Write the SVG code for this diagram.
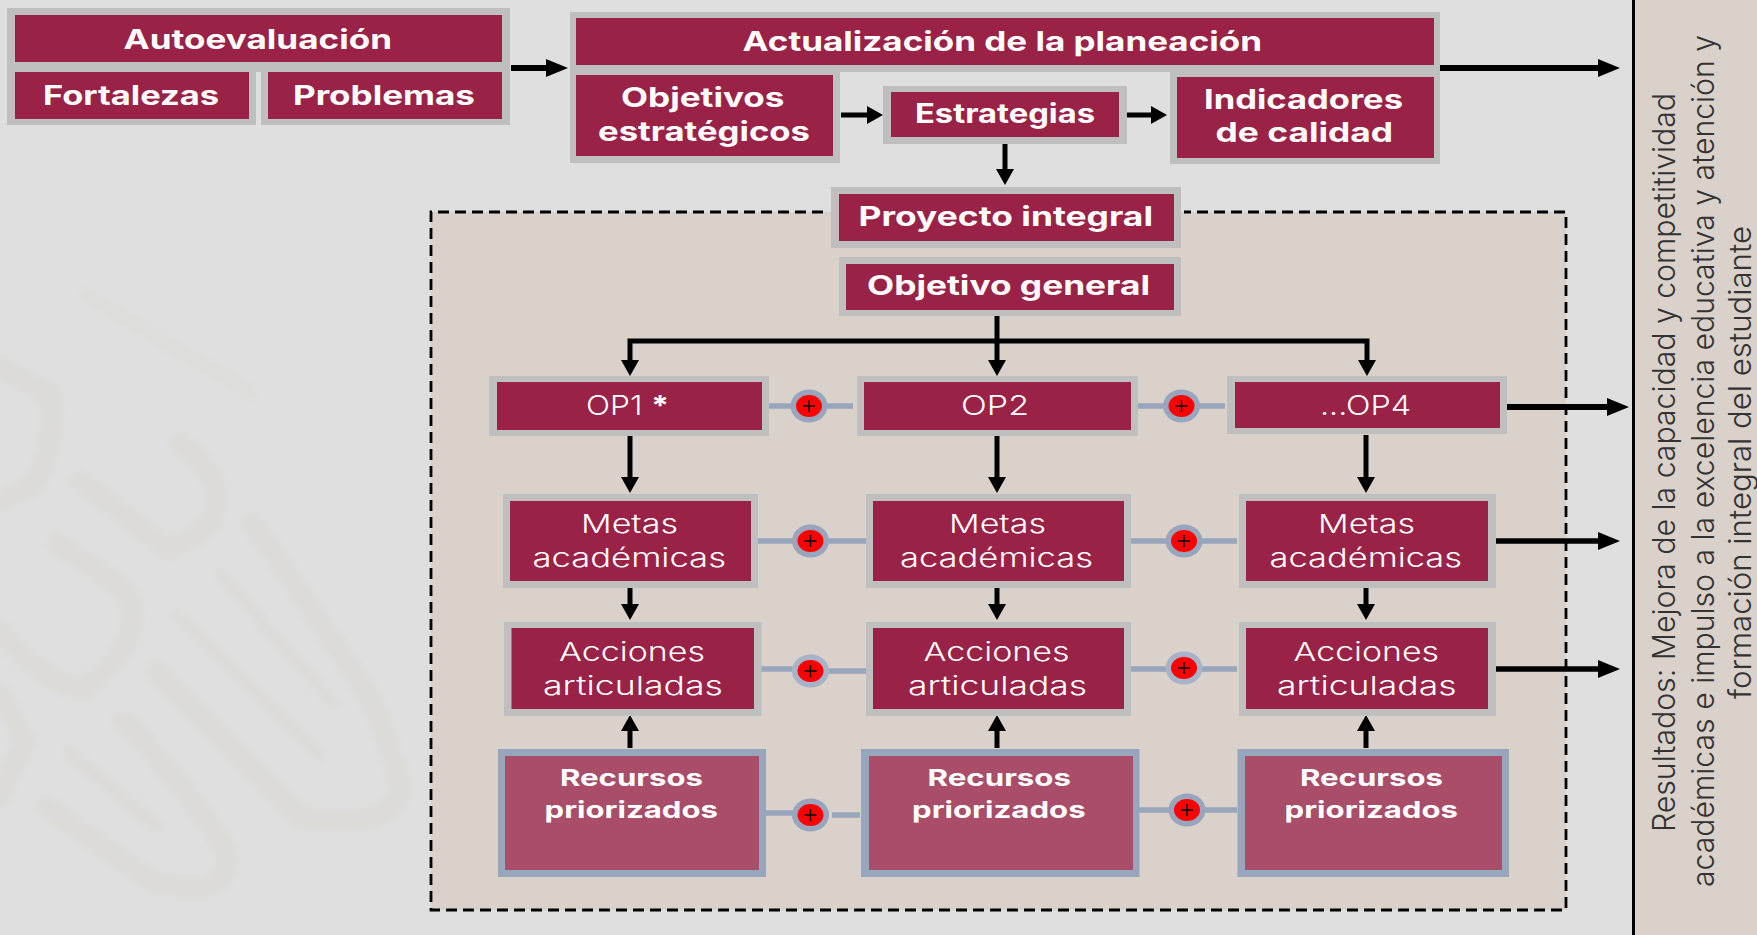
<svg xmlns="http://www.w3.org/2000/svg" width="1757" height="935" viewBox="0 0 1757 935">
<style>
text{font-family:"Inter","Liberation Sans",sans-serif;fill:#fff;}
.b{font-weight:700;font-size:27px;}
.r{font-weight:700;font-size:23.5px;}
.l{font-weight:300;font-size:26px;}
.o{font-weight:300;font-size:27.5px;}
.side{font-weight:300;font-size:31px;fill:#333;}
.g{fill:#bfbfbf;}
.m{fill:#9b2247;}
.bl{fill:#98a6bd;}
.p{fill:#a94d69;}
.bar{stroke:#98a6bd;stroke-width:5.5;fill:none;}
.a{stroke:#000;fill:none;stroke-width:5;}
.aH{marker-end:url(#hH);stroke-width:6;}
.aV{marker-end:url(#hV);}
.deco{fill:none;stroke:#dcdbd8;stroke-linecap:round;stroke-width:22;}
.ho{fill:#98a6bd;}
.re{fill:#ff0000;}
.pl{stroke:#000;stroke-width:1.4;fill:none;}
</style>
<defs>
<marker id="hH" markerUnits="userSpaceOnUse" markerWidth="22" markerHeight="20" refX="10" refY="10" orient="auto" viewBox="0 0 22 20"><path d="M0 1L22 10L0 19Z" fill="#000"/></marker>
<marker id="hV" markerUnits="userSpaceOnUse" markerWidth="16" markerHeight="20" refX="6" refY="10" orient="auto" viewBox="0 0 16 20"><path d="M0 1L16 10L0 19Z" fill="#000"/></marker>
<filter id="soft" x="-10%" y="-10%" width="120%" height="120%"><feGaussianBlur stdDeviation="3"/></filter>
</defs>
<rect width="1757" height="935" fill="#dfdfdf"/>
<g id="background-pattern" filter="url(#soft)">
<path class="deco" d="M47 807L150 880Q235 905 225 850Q205 810 125 722"/>
<path class="deco" d="M57 543L125 590Q150 640 83 690Q40 680 0 631"/>
<path class="deco" d="M80 481L167 548Q225 530 215 487Q205 460 180 445"/>
<path class="deco" d="M157 672L300 817Q400 830 400 786Q390 740 367 693L253 523"/>
<path class="deco" style="stroke-width:12" d="M177 616L320 755"/>
<path class="deco" style="stroke-width:12" d="M220 574L333 703"/>
<path class="deco" style="stroke-width:14" d="M118 719L200 812"/>
<path class="deco" style="stroke-width:14" d="M68 752L157 827"/>
<path class="deco" d="M0 368L50 394Q55 450 33 486L0 502"/>
<path class="deco" d="M0 693L25 740L0 796"/>
<path class="deco" style="stroke:#dddddb;stroke-width:16" d="M87 295L250 393"/>
</g>
<rect x="431" y="212" width="1135" height="698" fill="#d9d1ca"/>
<path d="M823 212H431V910H1566V212H1184" fill="none" stroke="#000" stroke-width="2.8" stroke-dasharray="11 6"/>
<rect x="1633" y="0" width="124" height="935" fill="#d9d1ca"/>
<rect x="1632" y="0" width="3" height="935" fill="#000"/>

<g id="connectors">
<path class="a aH" d="M511 68H556"/>
<path class="a aH" d="M1439 68H1608"/>
<path class="a aV" d="M841 115H873"/>
<path class="a aV" d="M1127 115H1157"/>
<path class="a aV" d="M1005 143V175"/>
<path class="a aV" d="M997 316V366"/>
<path class="a aV" d="M997 341H630V366"/>
<path class="a aV" d="M997 341H1367V366"/>
<path class="a aH" d="M1506 407H1617"/>
<path class="a aH" style="stroke-width:5.5" d="M1496 541H1608"/>
<path class="a aH" style="stroke-width:5.5" d="M1496 669H1608"/>
<path class="a aV" d="M630 435V483"/>
<path class="a aV" d="M997 435V483"/>
<path class="a aV" d="M1366 435V483"/>
<path class="a aV" d="M630 588V610"/>
<path class="a aV" d="M997 588V610"/>
<path class="a aV" d="M1366 588V610"/>
<path class="a aV" d="M630 748V725"/>
<path class="a aV" d="M997 748V725"/>
<path class="a aV" d="M1366 748V725"/>
<path class="bar" d="M769 406H853"/>
<path class="bar" d="M1138 406H1225"/>
<path class="bar" d="M758 541H866"/>
<path class="bar" d="M1131 541H1237"/>
<path class="bar" d="M761 669H800"/>
<path class="bar" d="M820 671H866"/>
<path class="bar" d="M1131 669H1237"/>
<path class="bar" d="M766 813H800"/>
<path class="bar" d="M832 815H860"/>
<path class="bar" d="M1139 810H1237"/>
</g>

<g id="autoevaluacion">
<rect class="g" x="7" y="8" width="503" height="64"/>
<rect class="m" x="15" y="15" width="487" height="47"/>
<text class="b" x="123.5" y="48.5" textLength="268.5" lengthAdjust="spacingAndGlyphs">Autoevaluación</text>
</g>
<g id="fortalezas">
<rect class="g" x="7" y="62" width="249" height="63"/>
<rect class="m" x="15" y="72" width="234" height="47"/>
<text class="b" x="43" y="105" textLength="176" lengthAdjust="spacingAndGlyphs">Fortalezas</text>
</g>
<g id="problemas">
<rect class="g" x="261" y="62" width="249" height="63"/>
<rect class="m" x="268" y="72" width="234" height="47"/>
<text class="b" x="293" y="105" textLength="182" lengthAdjust="spacingAndGlyphs">Problemas</text>
</g>
<g id="actualizacion">
<rect class="g" x="570" y="12" width="870" height="60"/>
<rect class="m" x="576" y="18" width="858" height="47"/>
<text class="b" x="742.5" y="50.5" textLength="519.5" lengthAdjust="spacingAndGlyphs">Actualización de la planeación</text>
</g>
<g id="objetivos">
<rect class="g" x="570" y="70" width="270" height="93"/>
<rect class="m" x="576" y="75" width="257" height="81"/>
<text class="b" x="621" y="107" textLength="163.5" lengthAdjust="spacingAndGlyphs">Objetivos</text>
<text class="b" x="598" y="140.5" textLength="212" lengthAdjust="spacingAndGlyphs">estratégicos</text>
</g>
<g id="estrategias">
<rect class="g" x="883" y="86" width="244" height="58"/>
<rect class="m" x="891" y="92" width="228" height="45"/>
<text class="b" x="915" y="122.5" textLength="180" lengthAdjust="spacingAndGlyphs">Estrategias</text>
</g>
<g id="indicadores">
<rect class="g" x="1170" y="70" width="270" height="94"/>
<rect class="m" x="1177" y="77" width="257" height="81"/>
<text class="b" x="1204" y="108.5" textLength="199" lengthAdjust="spacingAndGlyphs">Indicadores</text>
<text class="b" x="1215.6" y="142" textLength="177.5" lengthAdjust="spacingAndGlyphs">de calidad</text>
</g>
<g id="proyecto">
<rect class="g" x="831" y="187" width="350" height="61"/>
<rect class="m" x="839" y="194" width="335" height="47"/>
<text class="b" x="858.6" y="226" textLength="294.4" lengthAdjust="spacingAndGlyphs">Proyecto integral</text>
</g>
<g id="objetivo-general">
<rect class="g" x="839" y="257" width="342" height="59"/>
<rect class="m" x="846" y="264" width="328" height="46"/>
<text class="b" x="867" y="295" textLength="283" lengthAdjust="spacingAndGlyphs">Objetivo general</text>
</g>
<g id="op1">
<rect class="g" x="489" y="376" width="280" height="60"/>
<rect class="m" x="497" y="382" width="265" height="48"/>
<text class="o" x="586" y="415" textLength="83" lengthAdjust="spacingAndGlyphs">OP1 <tspan font-weight="700">*</tspan></text>
</g>
<g id="op2">
<rect class="g" x="857" y="376" width="281" height="60"/>
<rect class="m" x="864" y="382" width="267" height="48"/>
<text class="o" x="961" y="415" textLength="68" lengthAdjust="spacingAndGlyphs">OP2</text>
</g>
<g id="op4">
<rect class="g" x="1227" y="376" width="280" height="58"/>
<rect class="m" x="1235" y="382" width="265" height="46"/>
<text class="o" x="1320" y="415" textLength="91" lengthAdjust="spacingAndGlyphs">...OP4</text>
</g>
<g id="metas-1">
<rect class="g" x="503" y="494" width="255" height="94"/>
<rect class="m" x="510" y="501" width="241" height="80"/>
<text class="l" x="581" y="533" textLength="97" lengthAdjust="spacingAndGlyphs">Metas</text>
<text class="l" x="532.5" y="567" textLength="193.5" lengthAdjust="spacingAndGlyphs">académicas</text>
</g>
<g id="metas-2">
<rect class="g" x="866" y="494" width="265" height="94"/>
<rect class="m" x="873" y="501" width="251" height="80"/>
<text class="l" x="949" y="533" textLength="97" lengthAdjust="spacingAndGlyphs">Metas</text>
<text class="l" x="900" y="567" textLength="193" lengthAdjust="spacingAndGlyphs">académicas</text>
</g>
<g id="metas-3">
<rect class="g" x="1239" y="494" width="257" height="94"/>
<rect class="m" x="1246" y="501" width="242" height="80"/>
<text class="l" x="1318" y="533" textLength="97" lengthAdjust="spacingAndGlyphs">Metas</text>
<text class="l" x="1269.6" y="567" textLength="192.4" lengthAdjust="spacingAndGlyphs">académicas</text>
</g>
<g id="acciones-1">
<rect class="g" x="504" y="622" width="257.5" height="94"/>
<rect class="m" x="511.5" y="628" width="242.5" height="81"/>
<text class="l" x="559" y="661" textLength="146" lengthAdjust="spacingAndGlyphs">Acciones</text>
<text class="l" x="543" y="695" textLength="180" lengthAdjust="spacingAndGlyphs">articuladas</text>
</g>
<g id="acciones-2">
<rect class="g" x="866" y="622" width="265" height="94"/>
<rect class="m" x="873" y="628" width="251" height="81"/>
<text class="l" x="923.6" y="661" textLength="146" lengthAdjust="spacingAndGlyphs">Acciones</text>
<text class="l" x="908" y="695" textLength="179" lengthAdjust="spacingAndGlyphs">articuladas</text>
</g>
<g id="acciones-3">
<rect class="g" x="1239" y="622" width="257" height="94"/>
<rect class="m" x="1246" y="628" width="242" height="81"/>
<text class="l" x="1293.6" y="661" textLength="145.4" lengthAdjust="spacingAndGlyphs">Acciones</text>
<text class="l" x="1277" y="695" textLength="179.6" lengthAdjust="spacingAndGlyphs">articuladas</text>
</g>
<g id="recursos-1">
<rect class="bl" x="498" y="749" width="268" height="128"/>
<rect class="p" x="505" y="756" width="254" height="114"/>
<text class="r" x="560" y="786" textLength="143" lengthAdjust="spacingAndGlyphs">Recursos</text>
<text class="r" x="544.5" y="818" textLength="173.5" lengthAdjust="spacingAndGlyphs">priorizados</text>
</g>
<g id="recursos-2">
<rect class="bl" x="861" y="749" width="278.5" height="128"/>
<rect class="p" x="869" y="756" width="264" height="114"/>
<text class="r" x="927.6" y="786" textLength="143.4" lengthAdjust="spacingAndGlyphs">Recursos</text>
<text class="r" x="912" y="818" textLength="173.6" lengthAdjust="spacingAndGlyphs">priorizados</text>
</g>
<g id="recursos-3">
<rect class="bl" x="1237.5" y="749" width="271.5" height="128"/>
<rect class="p" x="1245" y="756" width="257" height="114"/>
<text class="r" x="1300" y="786" textLength="143" lengthAdjust="spacingAndGlyphs">Recursos</text>
<text class="r" x="1284.6" y="818" textLength="173.4" lengthAdjust="spacingAndGlyphs">priorizados</text>
</g>
<g id="plus-op-1"><ellipse class="ho" cx="809" cy="406" rx="18.5" ry="16.5"/><ellipse class="re" cx="809" cy="406" rx="13" ry="11"/><path class="pl" d="M803 406H815M809 400V412"/></g>
<g id="plus-op-2"><ellipse class="ho" cx="1181.5" cy="406" rx="18.5" ry="16.5"/><ellipse class="re" cx="1181.5" cy="406" rx="13" ry="11"/><path class="pl" d="M1175.500 406H1187.500M1181.500 400V412"/></g>
<g id="plus-metas-1"><ellipse class="ho" cx="810.500" cy="541" rx="18.5" ry="16.5"/><ellipse class="re" cx="810.500" cy="541" rx="13" ry="11"/><path class="pl" d="M804.500 541H816.500M810.500 535V547"/></g>
<g id="plus-metas-2"><ellipse class="ho" cx="1184" cy="541" rx="18.5" ry="16.5"/><ellipse class="re" cx="1184" cy="541" rx="13" ry="11"/><path class="pl" d="M1178 541H1190M1184 535V547"/></g>
<g id="plus-acciones-1"><ellipse class="ho" style="fill:#a6b3c8" cx="810.500" cy="671" rx="18.500" ry="16.500"/><ellipse class="re" cx="810.500" cy="671" rx="13" ry="11"/><path class="pl" d="M804.500 671H816.500M810.500 665V677"/></g>
<g id="plus-acciones-2"><ellipse class="ho" style="fill:#a6b3c8" cx="1184" cy="668" rx="18.500" ry="16.500"/><ellipse class="re" cx="1184" cy="668" rx="13" ry="11"/><path class="pl" d="M1178 668H1190M1184 662V674"/></g>
<g id="plus-recursos-1"><ellipse class="ho" cx="810.500" cy="815" rx="18.500" ry="16.500"/><ellipse class="re" cx="810.500" cy="815" rx="13" ry="11"/><path class="pl" d="M804.500 815H816.500M810.500 809V821"/></g>
<g id="plus-recursos-2"><ellipse class="ho" cx="1187" cy="810" rx="18.500" ry="16.500"/><ellipse class="re" cx="1187" cy="810" rx="13" ry="11"/><path class="pl" d="M1181 810H1193M1187 804V816"/></g>
<g id="resultados">
<text class="side" transform="translate(1675 832) rotate(-90)" textLength="739" lengthAdjust="spacingAndGlyphs">Resultados: Mejora de la capacidad y competitividad</text>
<text class="side" transform="translate(1714 887) rotate(-90)" textLength="852" lengthAdjust="spacingAndGlyphs">académicas e impulso a la excelencia educativa y atención y</text>
<text class="side" transform="translate(1751 699) rotate(-90)" textLength="473" lengthAdjust="spacingAndGlyphs">formación integral del estudiante</text>
</g>
</svg>
